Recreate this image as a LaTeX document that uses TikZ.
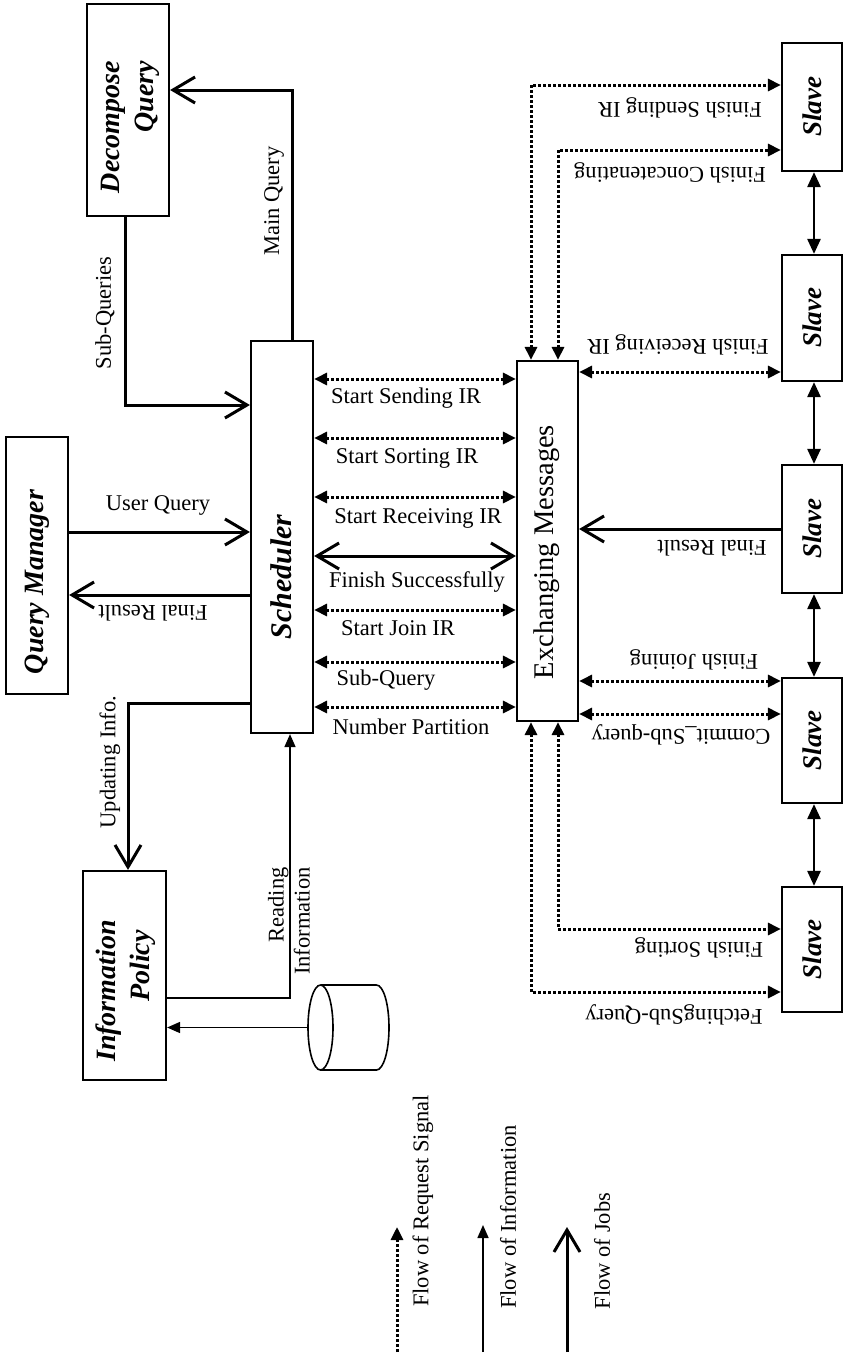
\documentclass[tikz,border=0pt]{standalone}
\usepackage{fontspec}
\setmainfont{Liberation Serif}
\usetikzlibrary{arrows.meta,calc}
\begin{document}
\begin{tikzpicture}[x=1pt,y=-1pt,
  box/.style={draw, line width=2.2pt, inner sep=0pt},
  lbl/.style={font=\fontsize{22.5pt}{26pt}\selectfont, inner sep=0pt},
  ttl/.style={font=\fontsize{28pt}{34pt}\selectfont\bfseries\itshape, inner sep=0pt},
  job/.style={line width=3pt, >={Straight Barb[length=22pt,width=26pt]}},
  info/.style={line width=1.6pt, >={Triangle[length=13pt,width=11pt]}},
  req/.style={line width=3pt, dash pattern=on 2.6pt off 2.4pt, >={Triangle[length=13pt,width=12pt]}},
  link/.style={line width=2.6pt, >={Triangle[length=15pt,width=13pt]}}]
\useasboundingbox (0,0) rectangle (843,1354);
\fill[white] (0,0) rectangle (843,1354);

% boxes
\node[box, minimum width=82pt, minimum height=212pt] (dq) at (128,110) {};
\node[box, minimum width=62pt, minimum height=257pt] (qm) at (37,565.5) {};
\node[box, minimum width=83pt, minimum height=209pt] (ip) at (124.5,975.5) {};
\node[box, minimum width=62pt, minimum height=392pt] (sch) at (282,537) {};
\node[box, minimum width=61pt, minimum height=360pt] (ex) at (547.5,541) {};
\node[box, minimum width=60pt, minimum height=128pt] (s1) at (812,107) {};
\node[box, minimum width=60pt, minimum height=126pt] (s2) at (812,318) {};
\node[box, minimum width=60pt, minimum height=128pt] (s3) at (812,529) {};
\node[box, minimum width=60pt, minimum height=125pt] (s4) at (812,740.5) {};
\node[box, minimum width=60pt, minimum height=125pt] (s5) at (812,949.5) {};
\node[minimum width=81pt, minimum height=85pt, inner sep=0pt] (db) at (348.5,1027.5) {};

% box titles
\node[ttl, rotate=90, align=right] (dqT) at (130,127) {Decompose\\Query};
\node[ttl, rotate=90] (qmT) at (37,582) {Query Manager};
\node[ttl, rotate=90, align=right] (ipT) at (126,991) {Information\\Policy\hspace*{10pt}};
\node[ttl, rotate=90, font=\fontsize{30pt}{34pt}\selectfont\bfseries\itshape] (schT) at (281,577) {Scheduler};
\node[rotate=90, inner sep=0pt, font=\fontsize{28.5pt}{34pt}\selectfont] (exT) at (547,552) {Exchanging Messages};
\foreach \s in {s1,s2,s3,s4,s5}
  \node[ttl, rotate=90, font=\fontsize{27pt}{32pt}\selectfont\bfseries\itshape] at (\s) {Slave};

% database
\draw[line width=1.6pt] (320.5,1027.5) ellipse [x radius=12.5, y radius=42.5];
\draw[line width=1.6pt] (320.5,985) -- (376.5,985)
  arc[start angle=-90, end angle=90, x radius=12.5, y radius=42.5] -- (320.5,1070);

% jobs connectors
\draw[job,->] (sch.north -| 292,0) |- (dq.east |- 0,90);
\draw[job,->] (dq.south -| 125,0) |- (sch.west |- 0,405);
\draw[job,->] (qm.east |- 0,532) -- (sch.west |- 0,532);
\draw[job,->] (sch.west |- 0,595) -- (qm.east |- 0,595);
\draw[job,->] (sch.west |- 0,703) -| (ip.north -| 128,0);
\draw[job,<->] (sch.east |- 0,556) -- (ex.west |- 0,556);
\draw[job,->] (s3.west |- 0,529) -- (ex.east |- 0,529);

% information connectors
\draw[info,->] (ip.east |- 0,998) -| (sch.south -| 290,0);
\draw[info,->] (db.west) -- (ip.east |- db.west);

% request connectors scheduler - exchanging
\foreach \yy in {379,438,497,610,662,707}
  \draw[req,<->] (sch.east |- 0,\yy) -- (ex.west |- 0,\yy);

% request connectors exchanging - slaves
\draw[req,<->] (ex.north -| 531,0) |- (s1.west |- 0,85);
\draw[req,<->] (ex.north -| 558,0) |- (s1.west |- 0,150);
\draw[req,<->] (ex.east |- 0,372) -- (s2.west |- 0,372);
\draw[req,<->] (ex.east |- 0,681) -- (s4.west |- 0,681);
\draw[req,<->] (ex.east |- 0,714) -- (s4.west |- 0,714);
\draw[req,<->] (ex.south -| 558,0) |- (s5.west |- 0,929);
\draw[req,<->] (ex.south -| 531,0) |- (s5.west |- 0,992);

% slave chain
\draw[link,<->] ([xshift=2pt]s1.south) -- ([xshift=2pt]s2.north);
\draw[link,<->] ([xshift=2pt]s2.south) -- ([xshift=2pt]s3.north);
\draw[link,<->] ([xshift=2pt]s3.south) -- ([xshift=2pt]s4.north);
\draw[link,<->] ([xshift=2pt]s4.south) -- ([xshift=2pt]s5.north);

% labels
\node[lbl, rotate=90] (lMQ) at (274,201) {Main Query};
\node[lbl, rotate=90] (lSQ) at (105,313) {Sub-Queries};
\node[lbl] (lUQ) at (158,505) {User Query};
\node[lbl, rotate=180] (lFR1) at (153,613) {Final Result};
\node[lbl, rotate=90] (lUI) at (110,762) {Updating Info.};
\node[lbl, rotate=90, align=right] (lRI) at (289,921) {Reading\\Information};

\node[lbl] at (406,398) {Start Sending IR};
\node[lbl] at (407,458) {Start Sorting IR};
\node[lbl] at (418,518) {Start Receiving IR};
\node[lbl] at (417,582) {Finish Successfully};
\node[lbl] at (398,628) {Start Join IR};
\node[lbl] at (386,680) {Sub-Query};
\node[lbl] at (411,727) {Number Partition};

\node[lbl, rotate=180] at (680,108) {Finish Sending IR};
\node[lbl, rotate=180] at (670,173) {Finish Concatenating};
\node[lbl, rotate=180] at (678,345) {Finish Receiving IR};
\node[lbl, rotate=180] at (712,548) {Final Result};
\node[lbl, rotate=180] at (694,660) {Finish Joining};
\node[lbl, rotate=180] at (681,735) {Commit\_Sub-query};
\node[lbl, rotate=180] at (699,948) {Finish Sorting};
\node[lbl, rotate=180] at (674,1015) {FetchingSub-Query};

% legend
\coordinate (lreqA) at (397,1352);
\coordinate (lreqB) at (397,1227);
\coordinate (linfA) at (483,1352);
\coordinate (linfB) at (483,1225);
\coordinate (ljobA) at (567,1352);
\coordinate (ljobB) at (567,1227);
\draw[req,->] (lreqA) -- (lreqB);
\draw[info,->] (linfA) -- (linfB);
\draw[job,->] (ljobA) -- (ljobB);
\node[lbl, rotate=90] at (423,1201) {Flow of Request Signal};
\node[lbl, rotate=90] at (508,1217) {Flow of Information};
\node[lbl, rotate=90] at (602,1251) {Flow of Jobs};
\end{tikzpicture}
\end{document}
